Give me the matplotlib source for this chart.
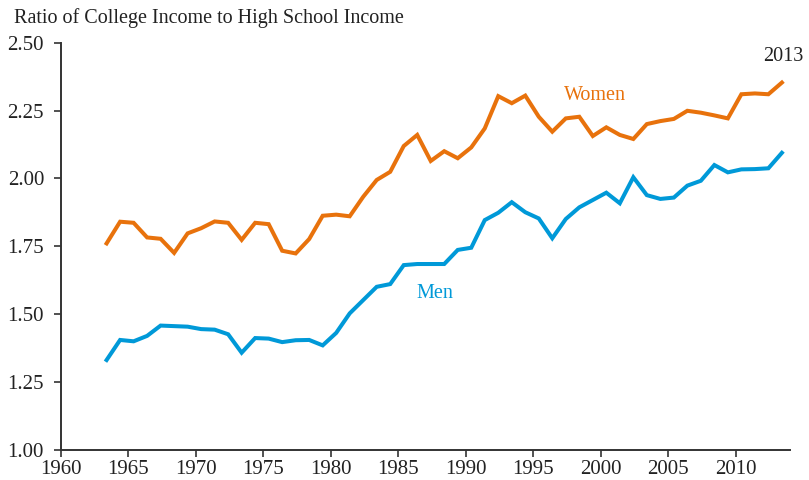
import matplotlib.pyplot as plt
import numpy as np

# Ratio of college income to high school income, 1963-2013
years = np.arange(1963, 2014)

women = [1.760, 1.840, 1.836, 1.782, 1.777, 1.725, 1.797, 1.816, 1.841, 1.836,
         1.773, 1.836, 1.831, 1.733, 1.723, 1.776, 1.862, 1.866, 1.860, 1.932,
         1.994, 2.024, 2.119, 2.160, 2.064, 2.100, 2.074, 2.114, 2.184, 2.303,
         2.277, 2.305, 2.227, 2.172, 2.221, 2.227, 2.156, 2.188, 2.160, 2.145,
         2.200, 2.211, 2.219, 2.249, 2.242, 2.232, 2.221, 2.310, 2.313, 2.310,
         2.353]

men = [1.330, 1.404, 1.399, 1.419, 1.457, 1.455, 1.453, 1.444, 1.442, 1.425,
       1.357, 1.411, 1.409, 1.396, 1.403, 1.404, 1.384, 1.430, 1.502, 1.551,
       1.600, 1.610, 1.680, 1.684, 1.684, 1.684, 1.736, 1.744, 1.846, 1.873,
       1.912, 1.875, 1.852, 1.779, 1.850, 1.893, 1.920, 1.947, 1.908, 2.004,
       1.938, 1.924, 1.929, 1.973, 1.991, 2.049, 2.022, 2.033, 2.034, 2.037,
       2.094]

x_ticks = np.arange(1960, 2011, 5)
y_ticks = [1.00, 1.25, 1.50, 1.75, 2.00, 2.25, 2.50]

orange = '#E8720C'
blue = '#0099D8'
dark = '#333333'

plt.rcParams['font.family'] = ['Liberation Serif', 'DejaVu Serif']

fig = plt.figure(figsize=(8.09, 4.80), dpi=100)
ax = fig.add_axes([0.075, 0.0635, 0.9015, 0.8475])

# values are annual averages, plotted at mid-year
x = years + 0.4
ax.plot(x, women, color=orange, lw=2.9, solid_joinstyle='miter')
ax.plot(x, men, color=blue, lw=2.9, solid_joinstyle='miter')

ax.set_xlim(1960, 2014)
ax.set_ylim(1.0, 2.5)
ax.set_xticks(x_ticks)
ax.set_yticks(y_ticks)
ax.set_yticklabels([f'{v:.2f}' for v in y_ticks])

for side in ['top', 'right']:
    ax.spines[side].set_visible(False)
for side in ['left', 'bottom']:
    ax.spines[side].set_color(dark)
    ax.spines[side].set_linewidth(1.4)

ax.tick_params(axis='both', direction='out', length=5, width=1.2, color=dark,
               labelsize=15, labelcolor='#222222')
ax.tick_params(axis='x', pad=2.5)
ax.tick_params(axis='y', pad=7)

ax.text(1999.55, 2.307, 'Women', color=orange, fontsize=14.5, ha='center', va='center')
ax.text(1987.7, 1.577, 'Men', color=blue, fontsize=14.5, ha='center', va='center')
ax.text(2013.5, 2.451, '2013', color='#222222', fontsize=14.5, ha='center', va='center',
        clip_on=False)

fig.text(0.017, 0.962, 'Ratio of College Income to High School Income',
         fontsize=14.5, color='#222222', ha='left', va='center')

fig.savefig('out.png', dpi=100)
